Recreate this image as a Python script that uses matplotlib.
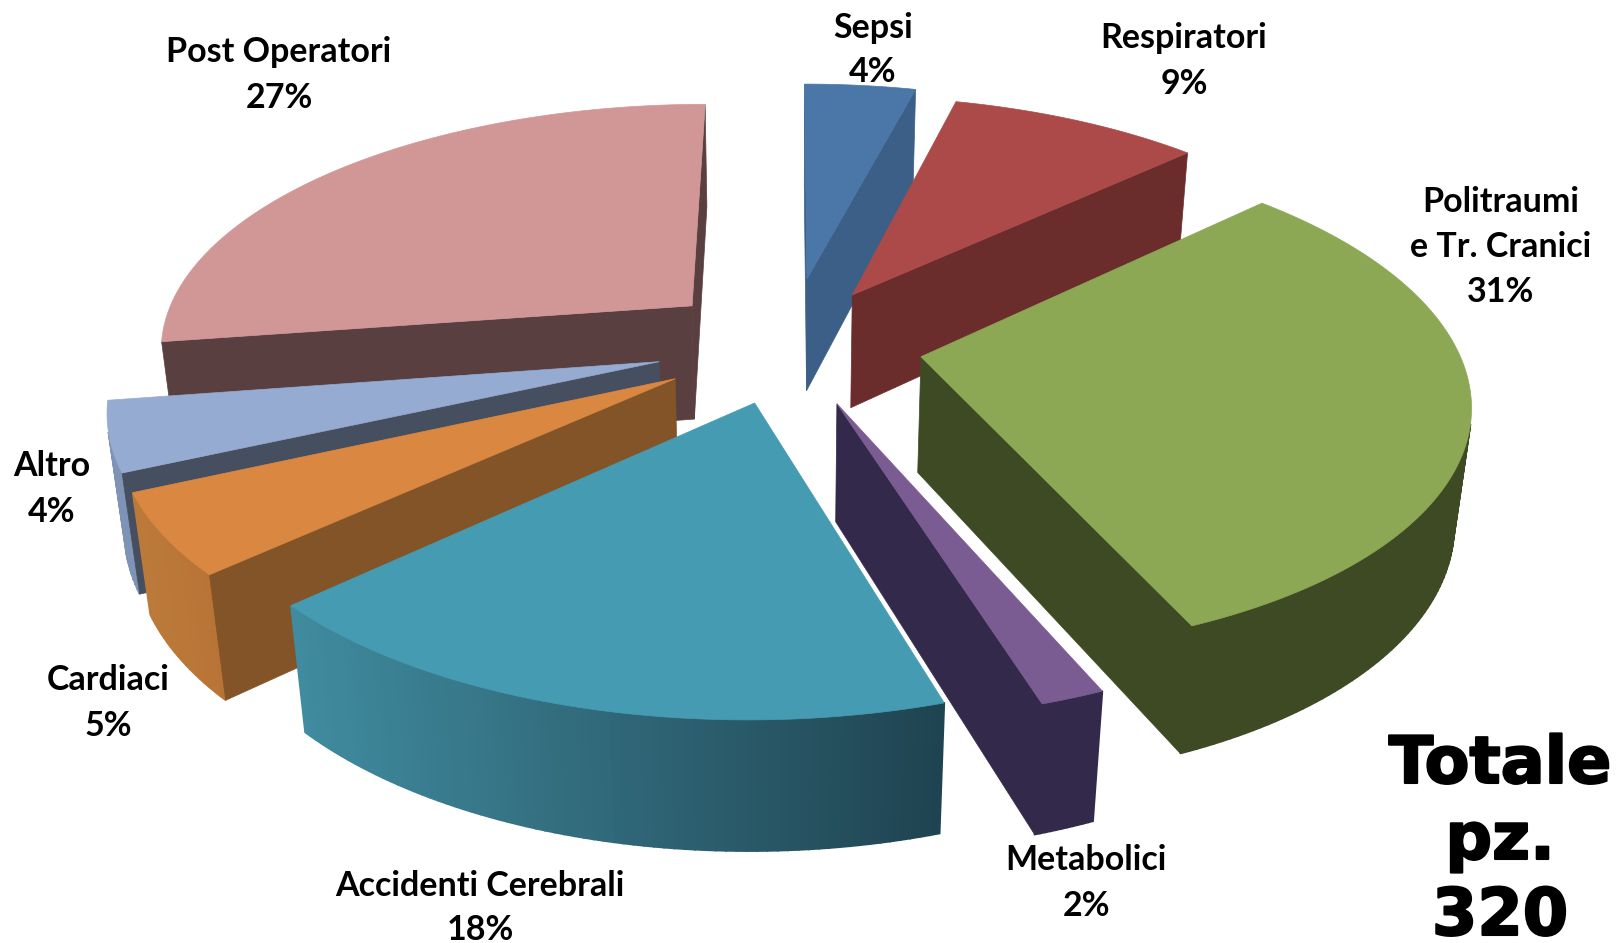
import numpy as np
import matplotlib
matplotlib.use("Agg")
import matplotlib.pyplot as plt
import matplotlib.patheffects as pe
from matplotlib.patches import Polygon
from matplotlib.colors import to_rgb

# slices clockwise from 12 o'clock
categories = ["Sepsi", "Respiratori", "Politraumi\ne Tr. Cranici", "Metabolici",
              "Accidenti Cerebrali", "Cardiaci", "Altro", "Post Operatori"]
shares = [4.0, 9.0, 30.6, 1.6, 17.9, 5.1, 4.4, 27.4]
labels = ["4%", "9%", "31%", "2%", "18%", "5%", "4%", "27%"]

# style per slice
explode = [0.28, 0.24, 0.25, 0.25, 0.24, 0.25, 0.25, 0.245]
top_colors = ["#4a77a8", "#ab4a48", "#8ca855", "#7a5c92", "#459bb2", "#da8841", "#96abd1", "#d19796"]
wall_colors = ["#3c5f88", "#6b2c2c", "#3d4a23", "#33294a", "#2f6d7e", "#835428", "#454f60", "#5a3f40"]
outer_left = ["#3c5f88", "#6b2c2c", "#3d4a23", "#33294a", "#408b9f", "#bb7a3a", "#7f93b6", "#b28383"]
outer_right = ["#3c5f88", "#6b2c2c", "#3d4a23", "#33294a", "#1f4350", "#b87436", "#7f93b6", "#b28383"]
draw_order = [7, 0, 1, 6, 5, 2, 3, 4]

label_x = [873, 1184, 1501, 1086, 480, 108, 52, 279]
label_y = [50, 61, 247, 883, 908, 703, 489, 75]

# projection of the pie plane on to the picture
cx, cy = 789, 344
rx, ry = 535, 245
persp = 0.16
depth = 118
sink = 0.025

plt.rcParams["font.family"] = ["Lato", "DejaVu Sans"]
fig = plt.figure(figsize=(16.2, 9.43), dpi=100)
ax = fig.add_axes([0, 0, 1, 1])
ax.set_xlim(0, 1620)
ax.set_ylim(943, 0)
ax.axis("off")


def project(u, v, z):
    w = 1 + persp * v + sink * z
    return np.column_stack([cx + rx * u / w, cy + (-ry * v + depth * z) / w])


def signed_area(p):
    x, y = p[:, 0], p[:, 1]
    return 0.5 * np.sum(x * np.roll(y, -1) - np.roll(x, -1) * y)


def add_face(p, color, z, lw=0.5):
    ax.add_patch(Polygon(p, closed=True, facecolor=color, edgecolor=color, linewidth=lw, zorder=z))


def wall(a, b, color, z, lw=0.5):
    # a to b runs clockwise round the slice, only faces turned to the viewer are drawn
    u = np.array([a[0], b[0], b[0], a[0]])
    v = np.array([a[1], b[1], b[1], a[1]])
    d = np.array([0, 0, 1, 1])
    p = project(u, v, d)
    if signed_area(p) < 0:
        add_face(p, color, z, lw)


edges = np.concatenate([[0], np.cumsum(shares)]) / sum(shares) * 2 * np.pi

for rank, i in enumerate(draw_order):
    t0, t1 = edges[i], edges[i + 1]
    mid = (t0 + t1) / 2
    ou, ov = explode[i] * np.sin(mid), explode[i] * np.cos(mid)
    theta = np.linspace(t0, t1, max(int(shares[i] * 4), 12))
    arc_u = ou + np.sin(theta)
    arc_v = ov + np.cos(theta)
    z = 10 + rank

    # rim, split in small quads so it can carry a gradient
    xs = project(arc_u, arc_v, np.zeros_like(arc_u))[:, 0]
    c0, c1 = np.array(to_rgb(outer_left[i])), np.array(to_rgb(outer_right[i]))
    for k in range(len(theta) - 1):
        f = ((xs[k] + xs[k + 1]) / 2 - xs.min()) / max(xs.max() - xs.min(), 1)
        wall((arc_u[k], arc_v[k]), (arc_u[k + 1], arc_v[k + 1]), c0 + (c1 - c0) * f, z, lw=1.2)

    wall((ou, ov), (arc_u[0], arc_v[0]), wall_colors[i], z + 0.2)
    wall((arc_u[-1], arc_v[-1]), (ou, ov), wall_colors[i], z + 0.2)

    top_u = np.concatenate([[ou], arc_u])
    top_v = np.concatenate([[ov], arc_v])
    add_face(project(top_u, top_v, np.zeros_like(top_u)), top_colors[i], z + 0.5)

for name, pct, x, y in zip(categories, labels, label_x, label_y):
    ax.text(x, y, f"{name}\n{pct}", ha="center", va="center", fontsize=24.5, fontweight="bold",
            color="black", linespacing=1.5, zorder=50)

for line, y in zip(["Totale", "pz.", "320"], [765, 841, 917]):
    ax.text(1500, y, line, ha="center", va="center", fontsize=47, fontweight="bold",
            family="DejaVu Sans", color="black", zorder=50,
            path_effects=[pe.withStroke(linewidth=1.5, foreground="black")])

fig.savefig("out.png", dpi=100)
